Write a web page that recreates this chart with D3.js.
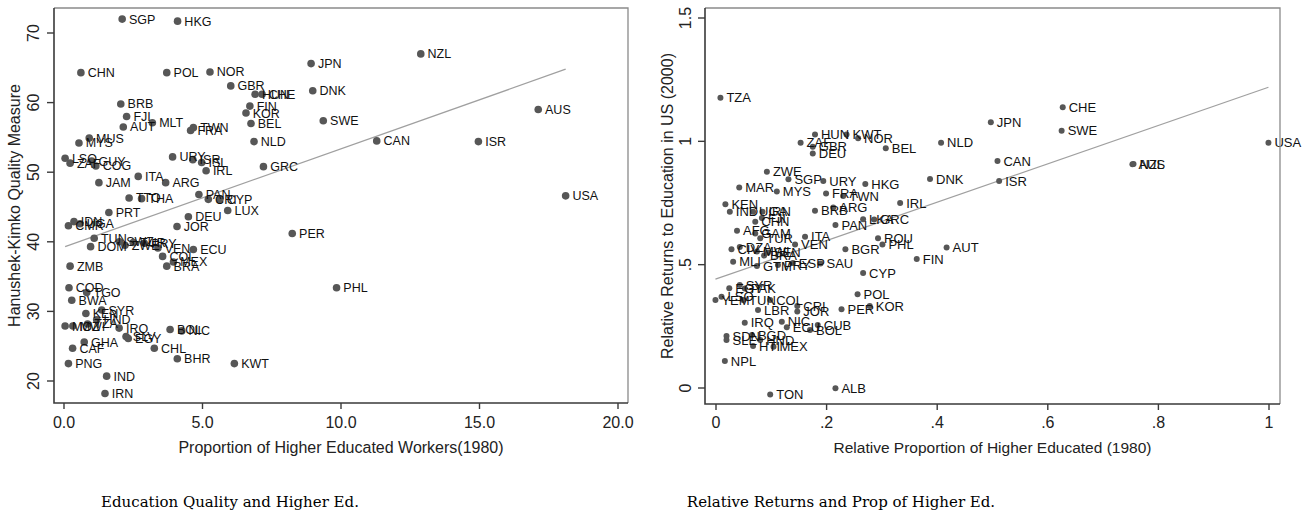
<!DOCTYPE html>
<html>
<head>
<meta charset="utf-8">
<script src="https://cdn.jsdelivr.net/npm/d3@7"></script>
<style>
  body { margin: 0; background: #fff; }
  svg { display: block; }
  .axis text { font-family: "Liberation Sans", Arial, sans-serif; }
</style>
</head>
<body>
<div id="chart"></div>
<script>
// ---- left panel: quality measure vs proportion of higher educated workers ----
const leftCodes = ["SGP","HKG","CHN","POL","NOR","GBR","HUN","CHE","JPN","DNK","SWE","NZL","CAN","ISR","AUS","USA",
  "PER","PHL","KWT","BRB","FJI","AUT","MLT","TWN","FRA","FIN","KOR","BEL","NLD","MUS","MYS","LSO","ZAF","GUY","COG",
  "URY","ISR","ISL","IRL","GRC","JAM","ITA","ARG","TTO","THA","PAN","CRI","CYP","LUX","DEU","JOR","PRT","IDN","UGA",
  "CMR","TUN","SWZ","ZWE","TUR","PRY","VEN","DOM","ECU","COL","MEX","BRA","ZMB","COD","TGO","BWA","SYR","KEN","HND",
  "MOZ","MWI","TZA","IRQ","SLV","EGY","CHL","BOL","NIC","BHR","GHA","CAF","PNG","IND","IRN"];
const leftX = [2.10,4.10,0.61,3.71,5.27,6.02,6.90,7.15,8.92,8.98,9.36,12.88,11.29,14.96,17.12,18.11,
  8.24,9.84,6.15,2.05,2.26,2.14,3.19,4.67,4.57,6.71,6.57,6.75,6.86,0.91,0.54,0.04,0.22,1.00,1.15,
  3.92,4.65,4.97,5.13,7.20,1.26,2.68,3.67,2.35,2.80,4.87,5.21,5.63,5.91,4.49,4.08,1.62,0.36,0.58,
  0.16,1.09,2.00,2.20,2.50,2.90,3.39,0.96,4.67,3.56,3.95,3.71,0.22,0.18,0.82,0.28,1.36,0.79,1.18,
  0.04,0.32,0.85,1.99,2.24,2.32,3.26,3.83,4.25,4.09,0.73,0.31,0.16,1.54,1.48];
const leftY = [72.0,71.7,64.3,64.3,64.4,62.4,61.2,61.2,65.6,61.7,57.4,67.0,54.5,54.4,59.0,46.6,
  41.2,33.4,22.5,59.8,58.0,56.5,57.1,56.4,56.0,59.5,58.5,57.0,54.4,54.9,54.2,52.0,51.3,51.6,50.9,
  52.2,51.8,51.4,50.2,50.8,48.5,49.4,48.5,46.3,46.2,46.8,46.1,46.1,44.5,43.6,42.2,44.2,42.9,42.6,
  42.3,40.5,40.0,39.5,39.9,39.8,39.1,39.3,38.9,37.9,37.1,36.5,36.5,33.4,32.7,31.6,30.2,29.7,28.8,
  27.9,27.9,28.2,27.6,26.4,26.1,24.7,27.4,27.2,23.2,25.6,24.7,22.5,20.7,18.2];
const leftXTicks = [0, 5, 10, 15, 20];
const leftYTicks = [20, 30, 40, 50, 60, 70];
const leftFit = [39.26, 1.41]; // intercept, slope

// ---- right panel: relative returns vs relative proportion ----
const rightCodes = ["TZA","HUN","KWT","NOR","ZAF","GBR","DEU","BEL","NLD","DNK","ZWE","SGP","URY","HKG","MAR","MYS",
  "FRA","TWN","KEN","IND","IRN","UGA","BRB","ARG","IRL","CHN","FJI","PAN","LKA","GRC","AFG","GAM","TUR","ITA","VEN",
  "ROU","PHL","AUT","BGR","CIV","DZA","MWI","BRA","SEN","MLI","GTM","PRY","ESP","SAU","FIN","CYP","EGY","SYR","PAK",
  "YEM","TUN","LSO","COL","LBR","CRI","JOR","PER","KOR","POL","IRQ","NIC","ECU","BOL","CUB","SDN","SLE","BGD","HND",
  "HTI","MEX","NPL","TON","ALB","CHE","JPN","SWE","USA","CAN","ISR","AUS","NZL"];
const rightX = [0.008,0.179,0.236,0.257,0.153,0.175,0.175,0.307,0.407,0.387,0.092,0.131,0.194,0.270,0.042,0.110,
  0.199,0.230,0.017,0.025,0.084,0.067,0.179,0.212,0.333,0.071,0.083,0.216,0.266,0.286,0.038,0.071,0.080,0.161,0.143,
  0.293,0.301,0.417,0.234,0.028,0.043,0.074,0.087,0.094,0.031,0.074,0.112,0.139,0.189,0.363,0.266,0.024,0.043,0.052,
  -0.001,0.049,0.010,0.098,0.076,0.147,0.147,0.227,0.278,0.256,0.052,0.119,0.128,0.170,0.184,0.019,0.019,0.065,0.080,
  0.067,0.104,0.016,0.098,0.216,0.627,0.497,0.625,0.999,0.509,0.512,0.753,0.755];
const rightY = [1.177,1.028,1.028,1.012,0.994,0.978,0.951,0.972,0.994,0.847,0.877,0.846,0.839,0.827,0.813,0.797,
  0.789,0.778,0.745,0.715,0.715,0.715,0.719,0.732,0.750,0.674,0.689,0.661,0.684,0.683,0.638,0.626,0.607,0.613,0.582,
  0.607,0.582,0.570,0.562,0.562,0.572,0.553,0.537,0.549,0.512,0.495,0.499,0.507,0.505,0.523,0.466,0.404,0.418,0.403,
  0.357,0.357,0.370,0.357,0.316,0.332,0.310,0.319,0.332,0.380,0.265,0.269,0.246,0.235,0.255,0.211,0.195,0.215,0.195,
  0.170,0.167,0.109,-0.026,-0.001,1.138,1.077,1.043,0.994,0.920,0.839,0.907,0.908];
const rightXTicks = [0, 0.2, 0.4, 0.6, 0.8, 1];
const rightYTicks = [0, 0.5, 1, 1.5];
const rightFit = [0.442, 0.778];

const W = 1314, H = 515;
const svg = d3.select("#chart").append("svg")
  .attr("width", W).attr("height", H)
  .attr("viewBox", `0 0 ${W} ${H}`);

function panel(opt) {
  const g = svg.append("g");
  const x = d3.scaleLinear().domain(opt.xDom).range(opt.xRange);
  const y = d3.scaleLinear().domain(opt.yDom).range(opt.yRange);
  const f = opt.frame; // [left, top, right, bottom]

  // fitted line, from min x to max x
  const xs = d3.extent(opt.xs);
  g.append("line")
    .attr("x1", x(xs[0])).attr("y1", y(opt.fit[0] + opt.fit[1] * xs[0]))
    .attr("x2", x(xs[1])).attr("y2", y(opt.fit[0] + opt.fit[1] * xs[1]))
    .attr("stroke", "#a0a0a0").attr("stroke-width", 1.3);

  // markers
  const pts = opt.codes.map((c, i) => ({c: c, x: opt.xs[i], y: opt.ys[i]}));
  g.selectAll("circle.pt").data(pts).enter().append("circle")
    .attr("class", "pt")
    .attr("cx", d => x(d.x)).attr("cy", d => y(d.y))
    .attr("r", opt.r).attr("fill", "#575757");
  g.selectAll("text.lab").data(pts).enter().append("text")
    .attr("class", "lab")
    .attr("x", d => x(d.x) + opt.r + 3).attr("y", d => y(d.y))
    .attr("dy", "0.36em")
    .attr("font-family", "'Liberation Sans', Arial, sans-serif")
    .attr("font-size", opt.labSize).attr("fill", "#111")
    .text(d => d.c);

  // frame: light top/right, darker left/bottom
  g.append("path").attr("d", `M${f[0]},${f[1]}H${f[2]}V${f[3]}`)
    .attr("fill", "none").attr("stroke", "#8a8a8a").attr("stroke-width", 1.3);
  g.append("path").attr("d", `M${f[0]},${f[1]}V${f[3]}H${f[2]}`)
    .attr("fill", "none").attr("stroke", "#3a3a3a").attr("stroke-width", 1.6);

  // y axis
  const ya = g.append("g").attr("class", "axis");
  ya.selectAll("line").data(opt.yTicks).enter().append("line")
    .attr("x1", f[0] - 7).attr("x2", f[0]).attr("y1", d => y(d)).attr("y2", d => y(d))
    .attr("stroke", "#3a3a3a").attr("stroke-width", 1.4);
  ya.selectAll("text").data(opt.yTicks).enter().append("text")
    .attr("transform", d => `translate(${opt.yLabX},${y(d)}) rotate(-90)`)
    .attr("text-anchor", "middle").attr("font-size", 16).attr("fill", "#222")
    .text(opt.yFmt);

  // x axis
  const xa = g.append("g").attr("class", "axis");
  xa.selectAll("line").data(opt.xTicks).enter().append("line")
    .attr("y1", f[3]).attr("y2", f[3] + 6).attr("x1", d => x(d)).attr("x2", d => x(d))
    .attr("stroke", "#3a3a3a").attr("stroke-width", 1.4);
  xa.selectAll("text").data(opt.xTicks).enter().append("text")
    .attr("x", d => x(d)).attr("y", 428)
    .attr("text-anchor", "middle").attr("font-size", 16).attr("fill", "#222")
    .text(opt.xFmt);

  // axis titles
  g.append("text").attr("class", "axis")
    .attr("x", (f[0] + f[2]) / 2).attr("y", 453)
    .attr("text-anchor", "middle").attr("font-size", opt.titleSize).attr("fill", "#222")
    .attr("font-family", "'Liberation Sans', Arial, sans-serif")
    .text(opt.xTitle);
  g.append("text")
    .attr("transform", `translate(${opt.yTitleX},${(f[1] + f[3]) / 2}) rotate(-90)`)
    .attr("text-anchor", "middle").attr("font-size", 16).attr("fill", "#222")
    .attr("font-family", "'Liberation Sans', Arial, sans-serif")
    .text(opt.yTitle);

  // caption underneath
  svg.append("text")
    .attr("x", opt.capX).attr("y", 507)
    .attr("text-anchor", "middle")
    .attr("font-family", "'DejaVu Serif', serif").attr("font-size", 15).attr("fill", "#000")
    .text(opt.caption);
}

panel({
  codes: leftCodes, xs: leftX, ys: leftY, fit: leftFit,
  xDom: [0, 20], xRange: [64, 618], yDom: [20, 70], yRange: [381, 33],
  frame: [54, 8, 628, 403], r: 3.8, labSize: 12.5,
  xTicks: leftXTicks, yTicks: leftYTicks,
  xFmt: d3.format(".1f"), yFmt: d => d,
  yLabX: 39, yTitleX: 20, titleSize: 16,
  xTitle: "Proportion of Higher Educated Workers(1980)",
  yTitle: "Hanushek-Kimko Quality Measure",
  caption: "Education Quality and Higher Ed.", capX: 230
});

panel({
  codes: rightCodes, xs: rightX, ys: rightY, fit: rightFit,
  xDom: [0, 1], xRange: [716, 1269], yDom: [0, 1.5], yRange: [388, 18],
  frame: [705, 8, 1280, 404], r: 3, labSize: 13,
  xTicks: rightXTicks, yTicks: rightYTicks,
  xFmt: d => String(d).replace(/^0\./, "."), yFmt: d => String(d).replace(/^0\./, "."),
  yLabX: 691, yTitleX: 673, titleSize: 15.5,
  xTitle: "Relative Proportion of Higher Educated (1980)",
  yTitle: "Relative Returns to Education in US (2000)",
  caption: "Relative Returns and Prop of Higher Ed.", capX: 841
});
</script>
</body>
</html>
